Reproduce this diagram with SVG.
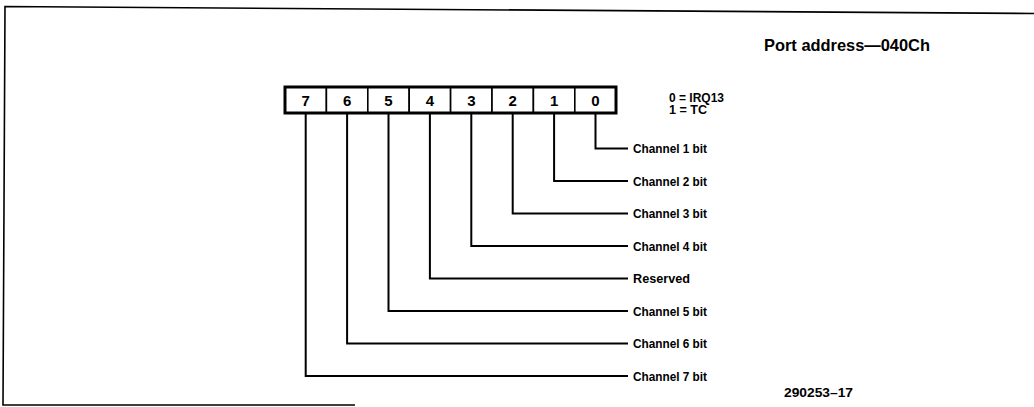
<svg xmlns="http://www.w3.org/2000/svg" width="1034" height="407" viewBox="0 0 1034 407">
<style>
.frame{fill:none;stroke:#000;stroke-width:1.6}
.cell{fill:#fff;stroke:#000;stroke-width:1.6}
.outer{fill:none;stroke:#000;stroke-width:3}
.bit{font-family:"Liberation Sans",Arial,sans-serif;font-size:15px;font-weight:bold;text-anchor:middle;fill:#000}
.lbl{font-family:"Liberation Sans",Arial,sans-serif;font-size:12.5px;font-weight:bold;fill:#000}
.wire{fill:none;stroke:#000;stroke-width:2}
.title{font-family:"Liberation Sans",Arial,sans-serif;font-size:17px;font-weight:bold;fill:#000}
</style>
<rect width="1034" height="407" fill="#fff"/>
<g id="frame">
<polyline class="frame" points="1034,13.5 5,6.5 3,405 355,405"/>
</g>
<text class="title" x="764" y="51" textLength="166" lengthAdjust="spacingAndGlyphs">Port address—040Ch</text>
<g id="register">
<rect class="cell" x="285" y="87" width="41.4" height="26"/>
<rect class="cell" x="326.4" y="87" width="41.4" height="26"/>
<rect class="cell" x="367.8" y="87" width="41.4" height="26"/>
<rect class="cell" x="409.2" y="87" width="41.4" height="26"/>
<rect class="cell" x="450.6" y="87" width="41.4" height="26"/>
<rect class="cell" x="492" y="87" width="41.4" height="26"/>
<rect class="cell" x="533.4" y="87" width="41.4" height="26"/>
<rect class="cell" x="574.8" y="87" width="41.4" height="26"/>
<rect class="outer" x="285" y="87" width="331" height="26"/>
<text class="bit" x="305.7" y="105.5">7</text>
<text class="bit" x="347.1" y="105.5">6</text>
<text class="bit" x="388.5" y="105.5">5</text>
<text class="bit" x="429.9" y="105.5">4</text>
<text class="bit" x="471.3" y="105.5">3</text>
<text class="bit" x="512.7" y="105.5">2</text>
<text class="bit" x="554.1" y="105.5">1</text>
<text class="bit" x="595.5" y="105.5">0</text>
</g>
<g id="legend">
<text class="lbl" x="669" y="102" textLength="55" lengthAdjust="spacingAndGlyphs">0 = IRQ13</text>
<text class="lbl" x="669" y="114" textLength="38" lengthAdjust="spacingAndGlyphs">1 = TC</text>
</g>
<g id="connectors">
<polyline class="wire" points="595.5,114 595.5,148.5 628,148.5"/>
<polyline class="wire" points="554.1,114 554.1,181 628,181"/>
<polyline class="wire" points="512.7,114 512.7,213.5 628,213.5"/>
<polyline class="wire" points="471.3,114 471.3,246 628,246"/>
<polyline class="wire" points="429.9,114 429.9,278.5 628,278.5"/>
<polyline class="wire" points="388.5,114 388.5,311 628,311"/>
<polyline class="wire" points="347.1,114 347.1,343.5 628,343.5"/>
<polyline class="wire" points="305.7,114 305.7,376 628,376"/>
</g>
<g id="labels">
<text class="lbl" x="633" y="153" textLength="74" lengthAdjust="spacingAndGlyphs">Channel 1 bit</text>
<text class="lbl" x="633" y="185.5" textLength="74" lengthAdjust="spacingAndGlyphs">Channel 2 bit</text>
<text class="lbl" x="633" y="218" textLength="74" lengthAdjust="spacingAndGlyphs">Channel 3 bit</text>
<text class="lbl" x="633" y="250.5" textLength="74" lengthAdjust="spacingAndGlyphs">Channel 4 bit</text>
<text class="lbl" x="633" y="283" textLength="57" lengthAdjust="spacingAndGlyphs">Reserved</text>
<text class="lbl" x="633" y="315.5" textLength="74" lengthAdjust="spacingAndGlyphs">Channel 5 bit</text>
<text class="lbl" x="633" y="348" textLength="74" lengthAdjust="spacingAndGlyphs">Channel 6 bit</text>
<text class="lbl" x="633" y="380.5" textLength="74" lengthAdjust="spacingAndGlyphs">Channel 7 bit</text>
<text class="lbl" x="784" y="397" textLength="69" lengthAdjust="spacingAndGlyphs" font-weight="normal">290253–17</text>
</g>
</svg>
